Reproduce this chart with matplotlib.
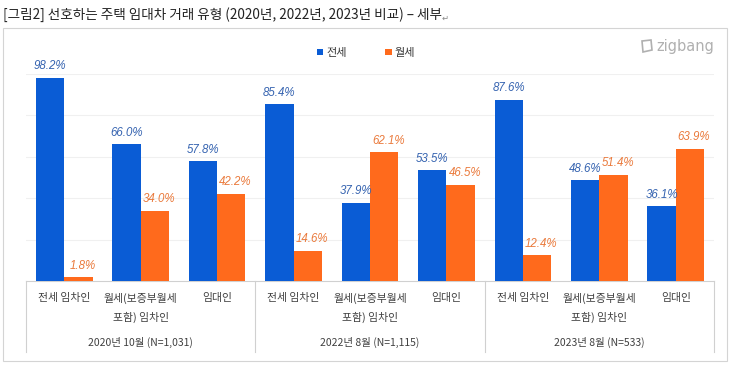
import matplotlib.pyplot as plt
import matplotlib.patches as mpatches
import numpy as np

plt.rcParams['font.family'] = ['Noto Sans CJK KR', 'DejaVu Sans']

TITLE = '[그림2] 선호하는 주택 임대차 거래 유형 (2020년, 2022년, 2023년 비교) – 세부'
series_names = ['전세', '월세']
categories = ['전세 임차인', '월세(보증부월세\n포함) 임차인', '임대인'] * 3
periods = ['2020년 10월 (N=1,031)', '2022년 8월 (N=1,115)', '2023년 8월 (N=533)']
jeonse = [98.2, 66.0, 57.8, 85.4, 37.9, 53.5, 87.6, 48.6, 36.1]
wolse = [1.8, 34.0, 42.2, 14.6, 62.1, 46.5, 12.4, 51.4, 63.9]

BLUE = '#0A5CD5'
ORANGE = '#FF6A1C'
BLUE_TXT = '#3563B0'
ORANGE_TXT = '#EA7A3C'

W, H = 730, 368
fig = plt.figure(figsize=(W / 100, H / 100), dpi=100)

# outer frame
fig.patches.append(mpatches.Rectangle((3 / W, 1 - 361 / H), 724 / W, 333 / H,
                                      transform=fig.transFigure, fill=False,
                                      edgecolor='#D4D4D4', linewidth=0.8))
fig.text(3 / W, 1 - 15 / H, TITLE, fontsize=9.8, color='#222222', va='center', ha='left')
fig.text(442 / W, 1 - 18 / H, '↵', fontsize=6, color='#888888', va='center',
         family=['DejaVu Sans'])

ax = fig.add_axes([26 / W, 1 - 281 / H, 688 / W, 207 / H])
x = np.arange(len(categories))
bw = 0.37
b1 = ax.bar(x - bw / 2, jeonse, bw, color=BLUE, label=series_names[0], zorder=3)
b2 = ax.bar(x + bw / 2, wolse, bw, color=ORANGE, label=series_names[1], zorder=3)

for rect, v in zip(b1, jeonse):
    ax.annotate(f'{v:.1f}%', (rect.get_x() + rect.get_width() / 2, v),
                xytext=(0, 4), textcoords='offset points', ha='center', va='bottom',
                fontsize=8.3, style='italic', color=BLUE_TXT, family=['Liberation Sans'],
                annotation_clip=False, zorder=5)
for rect, v in zip(b2, wolse):
    ax.annotate(f'{v:.1f}%', (rect.get_x() + rect.get_width() / 2, v),
                xytext=(3, 4), textcoords='offset points', ha='center', va='bottom',
                fontsize=8.3, style='italic', color=ORANGE_TXT, family=['Liberation Sans'],
                annotation_clip=False, zorder=5)

ax.set_xlim(-0.5, len(categories) - 0.5)
ax.set_ylim(0, 100)
ax.set_yticks([20, 40, 60, 80, 100])
ax.yaxis.grid(True, color='#F0F0F0', linewidth=0.8, zorder=0)
ax.tick_params(left=False, labelleft=False, bottom=False, labelbottom=False)
for s in ['top', 'right', 'left']:
    ax.spines[s].set_visible(False)
ax.spines['bottom'].set_color('#D0D0D0')

tr = ax.get_xaxis_transform()
for i, c in enumerate(categories):
    ax.text(i, -12 / 207, c, transform=tr, ha='center', va='top', fontsize=7.8,
            color='#404040', linespacing=1.9)
for k, p in enumerate(periods):
    ax.text(3 * k + 1, -61 / 207, p, transform=tr, ha='center', va='center', fontsize=7.5,
            color='#404040')
for xd in [-0.5, 2.5, 5.5, 8.5]:
    ax.plot([xd, xd], [0, -71 / 207], transform=tr, color='#D0D0D0', linewidth=0.8,
            clip_on=False)

fig.legend(handles=[b1, b2], loc='center', bbox_to_anchor=(366 / W, 1 - 53 / H), ncol=2,
           frameon=False, fontsize=8, handlelength=0.55, handleheight=0.55,
           handletextpad=0.3, columnspacing=3.5, labelcolor='#333333')

# zigbang logo
fig.text(656 / W, 1 - 46 / H, 'zigbang', fontsize=10.5, color='#B0B0B0',
         va='center', ha='left', family=['DejaVu Sans'])
fig.patches.append(mpatches.Polygon([(642 / W, 1 - 41 / H), (651 / W, 1 - 40 / H),
                                     (652 / W, 1 - 50 / H), (643 / W, 1 - 52 / H)],
                                    closed=True, fill=False, edgecolor='#B0B0B0',
                                    linewidth=1.2, transform=fig.transFigure))

fig.savefig('out.png', dpi=100)
